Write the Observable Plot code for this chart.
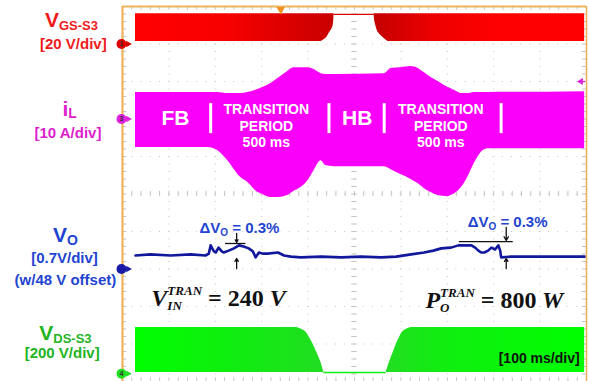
<!DOCTYPE html>
<html><head><meta charset="utf-8">
<script src="https://cdn.jsdelivr.net/npm/d3@7"></script>
<script src="https://cdn.jsdelivr.net/npm/@observablehq/plot@0.6"></script>
<style>
html,body{margin:0;padding:0;background:#fff;}
#chart{width:589px;height:381px;overflow:hidden;}
</style></head><body><div id="chart"></div>
<script>
// ---- Scope settings: time in ms (100 ms/div), vertical position in divisions (center = 0)
const timeDomain = [0, 1000];
const divDomain = [-5, 5];
const traceStart = 28, traceEnd = 996;

// ---- Channel 1: V_GS-S3 (red), edge shape around the HB interval
const gsEdgeY       = [4.81, 4.49, 4.28, 4.15, 4.07];
const gsLeftEndX    = [456, 454, 445, 438, 428];
const gsRightStartX = [542, 546, 553, 564, 572];
const gsHighLevel = 4.79;
const gsGround = 4.0;

// ---- Channel 3: iL (magenta) envelope
const iTime   = [28,184,205,227,255,270,292,302,320,335,356,369,384,400,413,428,438,456,564,579,600,622,637,650,665,680,702,708,724,730,745,758,773,788,996];
const iTop    = [2.71,2.71,2.71,2.68,2.68,2.71,2.79,2.84,2.95,3.08,3.27,3.37,3.37,3.37,3.32,3.21,3.19,3.19,3.21,3.35,3.37,3.40,3.35,3.24,3.11,3.00,2.84,2.81,2.71,2.68,2.68,2.71,2.71,2.71,2.73];
const iBottom = [1.24,1.24,1.16,0.89,0.44,0.31,0.04,-0.01,-0.09,-0.09,-0.04,0.07,0.17,0.36,0.63,0.89,0.76,0.73,0.73,0.65,0.52,0.39,0.28,0.15,0.04,-0.04,-0.07,-0.04,0.09,0.17,0.47,0.81,1.11,1.21,1.21];
const iGround = 2.0;

// ---- Channel 2: VO (blue)
const voTime  = [28,60,104,147,179,186,190,197,201,207,214,218,229,240,251,261,272,281,287,294,302,313,335,348,363,384,428,471,514,557,590,622,650,670,687,708,724,741,752,760,767,773,780,788,795,803,810,814,816,838,881,924,968,996];
const voLevel = [-1.64,-1.61,-1.64,-1.61,-1.64,-1.59,-1.37,-1.53,-1.56,-1.43,-1.53,-1.56,-1.51,-1.45,-1.37,-1.40,-1.45,-1.53,-1.69,-1.56,-1.59,-1.59,-1.56,-1.64,-1.67,-1.69,-1.67,-1.69,-1.67,-1.69,-1.67,-1.61,-1.56,-1.51,-1.45,-1.43,-1.37,-1.37,-1.37,-1.43,-1.51,-1.56,-1.56,-1.51,-1.43,-1.48,-1.37,-1.51,-1.69,-1.67,-1.67,-1.67,-1.67,-1.67];
const voGround = -2.0;

// ---- Channel 4: V_DS-S3 (green)
const dsEdgeY       = [-3.56, -3.64, -3.85, -4.17, -4.50, -4.76];
const dsLeftEndX    = [376, 391, 404, 417, 428, 434];
const dsRightStartX = [622, 607, 596, 585, 575, 568];
const dsGround = -4.79;

// ---- Mode annotations inside iL band
const modeBars = [190, 445, 564, 816];
const modeBarSpan = [1.61, 2.41];
const modeLabels = [{x: 114, y: 2.03, t: "FB"}, {x: 506, y: 2.03, t: "HB"}];
const transLabels = [{x: 310, y: 1.83, t: "TRANSITION\nPERIOD\n500 ms"}, {x: 686, y: 1.83, t: "TRANSITION\nPERIOD\n500 ms"}];

// ---- ΔVO markers
const dvMarks = [
  {bar: [222, 266], barY: -1.32, x: 246, downFrom: -1.05, downTo: -1.29, upFrom: -1.99, upTo: -1.72, textX: 252, textY: -0.92},
  {bar: [726, 842], barY: -1.27, x: 827, downFrom: -0.89, downTo: -1.24, upFrom: -1.99, upTo: -1.72, textX: 830, textY: -0.76}
];

const SANS = '"Liberation Sans", Arial, sans-serif';
const SERIF = '"Liberation Serif", "Times New Roman", serif';
const RED = "#ff0000", MAG = "#fa00fa", BLUE = "#12189c", GREEN = "#10ee10";
const RED_LBL = "#ee1b1b", MAG_LBL = "#dc1fcc", BLUE_LBL = "#1f45d0", GREEN_LBL = "#22b522";
const ORANGE = "#eeb35c", GRID = "#c6c6c6";

const ctx = document.createElement("canvas").getContext("2d");
function rich({x, y, segs, color, family = SANS, anchor = "middle", weight = "bold"}) {
  const fontOf = s => `${s.style || "normal"} ${s.weight || weight} ${s.size}px ${family}`;
  const w = segs.map(s => { ctx.font = fontOf(s); return ctx.measureText(s.t).width; });
  const total = d3.sum(segs, (s, i) => s.adv === false ? 0 : w[i]);
  let off = anchor === "middle" ? -total / 2 : anchor === "end" ? -total : 0;
  return segs.map((s, i) => {
    const m = Plot.text([{x, y}], {x: "x", y: "y", text: () => s.t, dx: off, dy: s.dy || 0,
      textAnchor: "start", lineAnchor: "middle", fontSize: s.size, fontWeight: s.weight || weight,
      fontStyle: s.style || "normal", fontFamily: family, fill: color});
    if (s.adv !== false) off += w[i];
    return m;
  });
}

const sideLabels = [
  {x: -110, y: 4.63, color: RED_LBL, segs: [{t: "V", size: 21}, {t: "GS-S3", size: 13, dy: 5}]},
  {x: -106, y: 3.99, color: RED_LBL, segs: [{t: "[20 V/div]", size: 15}]},
  {x: -114, y: 2.25, color: MAG_LBL, segs: [{t: "i", size: 21}, {t: "L", size: 14, dy: 4}]},
  {x: -117, y: 1.63, color: MAG_LBL, segs: [{t: "[10 A/div]", size: 15}]},
  {x: -123, y: -1.11, color: BLUE_LBL, segs: [{t: "V", size: 21}, {t: "O", size: 14, dy: 5}]},
  {x: -125, y: -1.72, color: BLUE_LBL, segs: [{t: "[0.7V/div]", size: 15}]},
  {x: -123, y: -2.31, color: BLUE_LBL, segs: [{t: "(w/48 V offset)", size: 15}]},
  {x: -123, y: -3.72, color: GREEN_LBL, segs: [{t: "V", size: 21}, {t: "DS-S3", size: 13, dy: 5}]},
  {x: -130, y: -4.25, color: GREEN_LBL, segs: [{t: "[200 V/div]", size: 15}]}
];

const mathLabels = [
  {x: 207, y: -2.79, segs: [{t: "V", size: 24, style: "italic"}, {t: "IN", size: 13, style: "italic", dy: 7, adv: false}, {t: "TRAN", size: 13, style: "italic", dy: -8}, {t: " = ", size: 24}, {t: "240", size: 24}, {t: " V", size: 24, style: "italic"}]},
  {x: 802, y: -2.84, segs: [{t: "P", size: 24, style: "italic"}, {t: "O", size: 13, style: "italic", dy: 7, adv: false}, {t: "TRAN", size: 13, style: "italic", dy: -8}, {t: " = ", size: 24}, {t: "800", size: 24}, {t: " W", size: 24, style: "italic"}]}
];

const markers = [
  {y: gsGround, color: "#e00000", n: "1"},
  {y: iGround, color: "#e020e0", n: "3"},
  {y: voGround, color: "#1a1aa8", n: ""},
  {y: dsGround, color: "#22dd22", n: "4"}
];

const minorX = d3.range(0, 1000.1, 20);
const minorY = d3.range(-5, 5.01, 0.2);

const chart = Plot.plot({
  width: 589, height: 381,
  marginLeft: 122, marginRight: 3, marginTop: 6, marginBottom: 0,
  x: {domain: timeDomain, axis: null},
  y: {domain: divDomain, axis: null},
  style: {background: "#fff", fontFamily: SANS},
  marks: [
    // graticule
    Plot.ruleX(d3.range(100, 1000, 100), {stroke: GRID, strokeDasharray: "1,6.5"}),
    Plot.ruleY(d3.range(-4, 5, 1), {stroke: GRID, strokeDasharray: "1,8.26"}),
    Plot.ruleX(minorX, {y1: -0.07, y2: 0.07, stroke: GRID}),
    Plot.ruleY(minorY, {x1: 494, x2: 506, stroke: GRID}),
    Plot.ruleX(minorX, {y1: 5, y2: 4.9, stroke: GRID}),
    Plot.ruleX(minorX, {y1: -5, y2: -4.9, stroke: GRID}),
    Plot.ruleY(minorY, {x1: 0, x2: 9, stroke: GRID}),
    Plot.ruleY(minorY, {x1: 991, x2: 1000, stroke: GRID}),

    // CH1 V_GS-S3
    Plot.areaX(gsEdgeY.map((y, i) => ({y, x: gsLeftEndX[i]})), {y: "y", x1: traceStart, x2: "x", fill: "url(#gsL)", curve: "monotone-y"}),
    Plot.areaX(gsEdgeY.map((y, i) => ({y, x: gsRightStartX[i]})), {y: "y", x1: "x", x2: traceEnd, fill: "url(#gsR)", curve: "monotone-y"}),
    Plot.ruleY([gsHighLevel], {x1: gsLeftEndX[0], x2: gsRightStartX[0], stroke: "#d80000", strokeWidth: 1.3}),

    // CH3 iL
    Plot.areaY(iTime.map((t, i) => ({t, lo: iBottom[i], hi: iTop[i]})), {x: "t", y1: "lo", y2: "hi", fill: MAG, curve: "monotone-x"}),

    // CH4 V_DS-S3
    Plot.areaX(dsEdgeY.map((y, i) => ({y, x: dsLeftEndX[i]})), {y: "y", x1: traceStart, x2: "x", fill: "url(#dsL)", curve: "monotone-y"}),
    Plot.areaX(dsEdgeY.map((y, i) => ({y, x: dsRightStartX[i]})), {y: "y", x1: "x", x2: traceEnd, fill: "url(#dsR)", curve: "monotone-y"}),
    Plot.ruleY([dsEdgeY[dsEdgeY.length - 1]], {x1: dsLeftEndX[dsLeftEndX.length - 1], x2: dsRightStartX[dsRightStartX.length - 1], stroke: GREEN, strokeWidth: 1.5}),

    // CH2 VO
    Plot.line(voTime.map((t, i) => ({t, v: voLevel[i]})), {x: "t", y: "v", stroke: BLUE, strokeWidth: 2.6, curve: "linear"}),

    // mode annotations
    Plot.ruleX(modeBars, {y1: modeBarSpan[0], y2: modeBarSpan[1], stroke: "#fff", strokeWidth: 3}),
    Plot.text(modeLabels, {x: "x", y: "y", text: "t", fill: "#fff", fontSize: 21, fontWeight: "bold", fontFamily: SANS}),
    Plot.text(transLabels, {x: "x", y: "y", text: "t", fill: "#fff", fontSize: 14, fontWeight: "bold", fontFamily: SANS, lineHeight: 1.15}),

    // ΔVO markers
    Plot.ruleY(dvMarks, {y: "barY", x1: d => d.bar[0], x2: d => d.bar[1], stroke: "#111", strokeWidth: 1.3}),
    Plot.arrow(dvMarks, {x1: "x", x2: "x", y1: "downFrom", y2: "downTo", stroke: "#111", strokeWidth: 1.3, headLength: 6}),
    Plot.arrow(dvMarks, {x1: "x", x2: "x", y1: "upFrom", y2: "upTo", stroke: "#111", strokeWidth: 1.3, headLength: 6}),
    ...dvMarks.flatMap(d => rich({x: d.textX, y: d.textY, color: BLUE_LBL, segs: [{t: "ΔV", size: 15}, {t: "O", size: 10, dy: 4}, {t: " = 0.3%", size: 15}]})),

    ...mathLabels.flatMap(d => rich({x: d.x, y: d.y, color: "#111", family: SERIF, segs: d.segs})),
    ...rich({x: 898, y: -4.39, color: "#111", segs: [{t: "[100 ms/div]", size: 14}]}),

    // frame
    Plot.ruleX([timeDomain[0]], {stroke: ORANGE, strokeWidth: 2.2}),
    Plot.ruleY([divDomain[1]], {stroke: ORANGE, strokeWidth: 2.2}),
    Plot.ruleX([timeDomain[1]], {stroke: ORANGE, strokeWidth: 1.6}),
    Plot.dot([{x: 341, y: divDomain[1]}], {x: "x", y: "y", symbol: "triangle", r: 3.2, rotate: 180, dy: 3, fill: "#f09020"}),
    Plot.dot([{x: 988, y: 3.0}], {x: "x", y: "y", symbol: "triangle", r: 2.6, rotate: -90, fill: "#e020e0"}),
    Plot.ruleY([3.0], {x1: 988, x2: 998, stroke: "#e020e0", strokeWidth: 1.3}),

    // channel ground markers
    Plot.ruleY(markers, {y: "y", x1: 0, x2: 11, stroke: "color", strokeWidth: 1.6}),
    Plot.dot(markers, {x: 12, y: "y", symbol: "triangle", r: 2.4, rotate: 90, fill: "color"}),
    Plot.dot(markers, {x: 0, y: "y", r: 5, dx: -1, fill: "color"}),
    Plot.text(markers, {x: 0, y: "y", text: "n", dx: -1, fontSize: 7, fill: "#333", fontWeight: "bold"}),

    ...sideLabels.flatMap(d => rich({x: d.x, y: d.y, color: d.color, segs: d.segs}))
  ]
});

chart.insertAdjacentHTML("afterbegin", `<defs>
  <linearGradient id="gsL" x1="0" x2="1" y1="0" y2="0">
    <stop offset="0" stop-color="#ff0000"/><stop offset="0.45" stop-color="#f80000"/><stop offset="1" stop-color="#c80000"/></linearGradient>
  <linearGradient id="gsR" x1="0" x2="1" y1="0" y2="0">
    <stop offset="0" stop-color="#c40000"/><stop offset="0.3" stop-color="#ee0000"/><stop offset="0.6" stop-color="#ff0000"/><stop offset="1" stop-color="#ff0000"/></linearGradient>
  <linearGradient id="dsL" x1="0" x2="1" y1="0" y2="0">
    <stop offset="0" stop-color="#00ff00"/><stop offset="0.6" stop-color="#12ea12"/><stop offset="1" stop-color="#22dd22"/></linearGradient>
  <linearGradient id="dsR" x1="0" x2="1" y1="0" y2="0">
    <stop offset="0" stop-color="#22dd22"/><stop offset="0.3" stop-color="#10ee10"/><stop offset="1" stop-color="#00ff00"/></linearGradient>
</defs>`);

document.getElementById("chart").appendChild(chart);
</script></body></html>
